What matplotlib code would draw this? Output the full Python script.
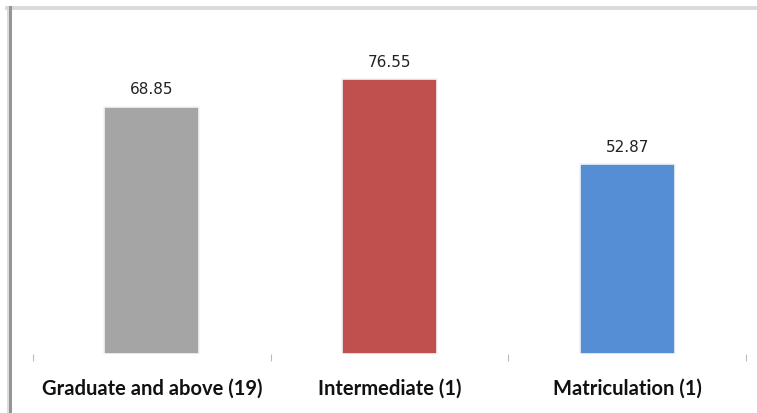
import matplotlib
matplotlib.use("Agg")
import matplotlib.pyplot as plt
from matplotlib.lines import Line2D

categories = ["Graduate and above (19)", "Intermediate (1)", "Matriculation (1)"]
values = [68.85, 76.55, 52.87]
value_labels = ["68.85", "76.55", "52.87"]
colors = ["#A5A5A5", "#C0504D", "#558ED5"]

W, H, DPI = 757, 414, 100
fig = plt.figure(figsize=(W / DPI, H / DPI), dpi=DPI)
fig.patch.set_facecolor("white")

# plot area in pixel terms
left_px, right_px, base_px, top_px = 33, 746, 355, 30
ax = fig.add_axes([left_px / W, (H - base_px) / H,
                   (right_px - left_px) / W, (base_px - top_px) / H])
ax.set_facecolor("none")

x = list(range(len(categories)))
ax.bar(x, values, width=0.4, color=colors, edgecolor="#F4F4F4", linewidth=1.2, zorder=2)

ax.set_xlim(-0.5, len(categories) - 0.5)
ax.set_ylim(0, (base_px - top_px) / 3.59)

for xi, v, lab in zip(x, values, value_labels):
    ax.annotate(lab, (xi, v), xytext=(0, 7.5), textcoords="offset points",
                ha="center", va="bottom", fontsize=11, color="#222222",
                family=["DejaVu Sans"])

for s in ax.spines.values():
    s.set_visible(False)
ax.set_yticks([])
ax.set_xticks(x)
ax.set_xticklabels(categories, fontsize=14.5, fontweight="bold", family=["Lato", "DejaVu Sans"],
                   color="#111111")
ax.tick_params(axis="x", which="major", length=0, pad=17)
ax.set_xticks([i - 0.5 for i in range(len(categories) + 1)], minor=True)
ax.tick_params(axis="x", which="minor", length=5, width=0.8, color="#BBBBBB", direction="out")

# outer frame: light band along the top, darker rule down the left edge
fig.add_artist(Line2D([7 / W, 1.0], [1 - 8.5 / H, 1 - 8.5 / H], transform=fig.transFigure,
                      color="#DADADA", linewidth=2.8))
fig.add_artist(Line2D([9.5 / W, 9.5 / W], [0, 1 - 8 / H], transform=fig.transFigure,
                      color="#959595", linewidth=2.2))
fig.add_artist(Line2D([7.5 / W, 7.5 / W], [0, 1 - 8 / H], transform=fig.transFigure,
                      color="#D6D6D6", linewidth=1.2))

fig.savefig("out.png", dpi=DPI, facecolor="white")
